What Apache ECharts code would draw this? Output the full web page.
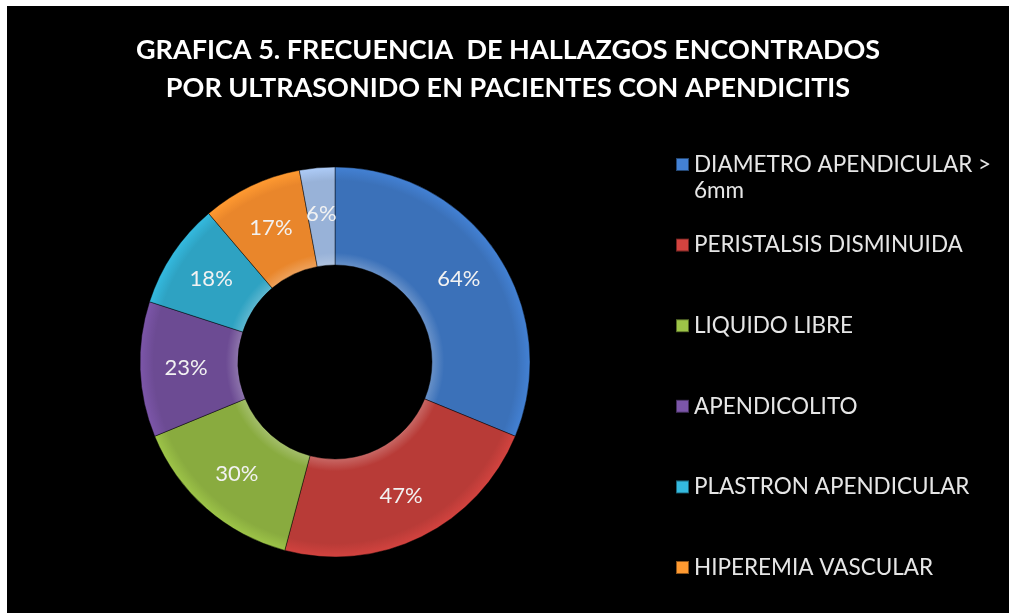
<!DOCTYPE html>
<html>
<head>
<meta charset="utf-8">
<script src="https://cdn.jsdelivr.net/npm/echarts@6/dist/echarts.min.js"></script>
<style>
  html, body { margin: 0; padding: 0; background: #fff; }
  #chart { position: absolute; left: 7px; top: 6px; width: 1002px; height: 607px; background: #000; }
</style>
</head>
<body>
<div id="chart"></div>
<script>
const categories = [
  'DIAMETRO APENDICULAR > 6mm',
  'PERISTALSIS DISMINUIDA',
  'LIQUIDO LIBRE',
  'APENDICOLITO',
  'PLASTRON APENDICULAR',
  'HIPEREMIA VASCULAR',
  'OTROS'
]
const values = [64, 47, 30, 23, 18, 17, 6]
const colors = ['#3b71b9', '#b83b37', '#89ab3f', '#6c4b93', '#2ea2c2', '#e9862b', '#98b2d8']
// only six entries fit in the original legend box
const legendNames = categories.slice(0, 6)

const chart = echarts.init(document.getElementById('chart'))

// center of the ring in chart coords (div is offset 7,6 in page)
const cx = 328, cy = 356

function shade(c) {
  return new echarts.graphic.RadialGradient(cx, cy, 195, [
    { offset: 0.49, color: echarts.color.lift(c, 0.25) },
    { offset: 0.56, color: c },
    { offset: 0.93, color: c },
    { offset: 1, color: echarts.color.lift(c, -0.15) }
  ], true)
}

const legends = legendNames.map((name, i) => ({
  orient: 'vertical',
  left: 663,
  top: 142 + i * 80.6,
  data: [name],
  icon: 'rect',
  itemWidth: 13,
  itemHeight: 13,
  itemGap: 0,
  selectedMode: false,
  formatter: n => n.replace(' 6mm', ''),
  textStyle: {
    color: '#e6e6e6',
    fontFamily: 'Lato',
    fontSize: 22.5,
    padding: [0, 0, 0, 0]
  }
}))

const option = {
  backgroundColor: '#000',
  animation: false,
  title: {
    text: 'GRAFICA 5. FRECUENCIA  DE HALLAZGOS ENCONTRADOS\nPOR ULTRASONIDO EN PACIENTES CON APENDICITIS',
    left: 'center',
    top: 20,
    textStyle: {
      color: '#fff',
      fontFamily: 'Lato',
      fontWeight: 'bold',
      fontSize: 27,
      lineHeight: 38
    }
  },
  legend: legends,
  graphic: [{
    type: 'text',
    left: 687,
    top: 173,
    style: { text: '6mm', fill: '#e6e6e6', font: '22.5px Lato' }
  }],
  series: [{
    type: 'pie',
    center: [cx, cy],
    radius: [97, 195],
    startAngle: 90,
    clockwise: true,
    label: {
      show: true,
      position: 'inside',
      formatter: p => p.value + '%',
      color: '#f2f2f2',
      fontFamily: 'Lato',
      fontSize: 22
    },
    labelLine: { show: false },
    itemStyle: {
      borderColor: 'rgba(0,0,0,0.45)',
      borderWidth: 1
    },
    data: categories.map((name, i) => ({
      name: name,
      value: values[i],
      itemStyle: { color: shade(colors[i]) }
    }))
  }],
  color: colors
}

chart.setOption(option)
</script>
</body>
</html>
